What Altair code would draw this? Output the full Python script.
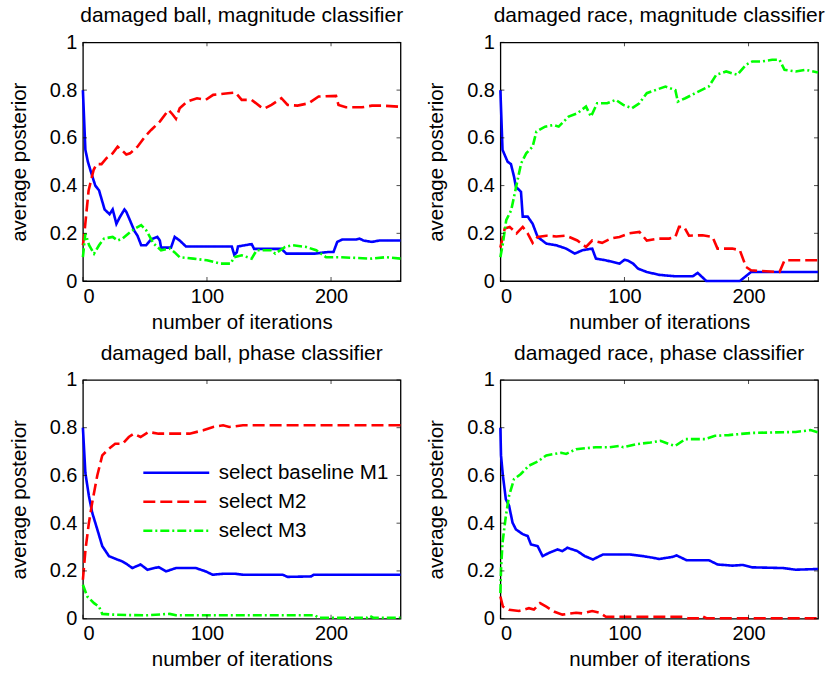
import altair as alt
import pandas as pd

SERIES = ["select baseline M1", "select M2", "select M3"]
COLORS = ["#0000ff", "#ff0000", "#00ff00"]
DASHES = [[1, 0], [12, 5], [9, 3, 2, 3]]
X_TICKS = [0, 100, 200]
Y_TICKS = [0, 0.2, 0.4, 0.6, 0.8, 1]
X_MAX = 256

TITLES = [
    "damaged ball, magnitude classifier",
    "damaged race, magnitude classifier",
    "damaged ball, phase classifier",
    "damaged race, phase classifier",
]

# ---- damaged ball, magnitude classifier ----
tl_m1_x = [0, 2, 4, 7.5, 10, 13, 17.5, 21.5, 24, 27, 30, 33.5, 35, 37.5, 41.5, 44, 47, 51, 55, 60, 62, 63, 71, 74, 78, 83, 120, 122, 124, 125, 136, 138, 160, 164, 187, 198, 202, 205, 209, 220, 223, 226, 233, 239, 256]
tl_m1_y = [0.80, 0.55, 0.50, 0.44, 0.40, 0.38, 0.30, 0.28, 0.30, 0.24, 0.27, 0.30, 0.29, 0.26, 0.21, 0.19, 0.15, 0.15, 0.175, 0.185, 0.17, 0.14, 0.14, 0.185, 0.17, 0.145, 0.145, 0.11, 0.12, 0.145, 0.155, 0.135, 0.135, 0.115, 0.115, 0.122, 0.122, 0.164, 0.174, 0.174, 0.178, 0.17, 0.164, 0.17, 0.17]
tl_m2_x = [0, 1, 2.7, 4.6, 8.6, 11, 15, 19, 24, 28, 32, 35, 38, 44, 50, 55, 62, 69, 72, 75, 78, 84, 92, 99, 105, 117, 123, 128, 136, 143, 146, 152, 160, 165, 173, 182, 190, 204, 206, 212, 225, 233, 241, 256]
tl_m2_y = [0.15, 0.19, 0.28, 0.38, 0.465, 0.49, 0.49, 0.515, 0.535, 0.563, 0.545, 0.53, 0.535, 0.563, 0.605, 0.633, 0.668, 0.717, 0.70, 0.68, 0.724, 0.752, 0.766, 0.759, 0.78, 0.787, 0.79, 0.759, 0.759, 0.731, 0.722, 0.738, 0.766, 0.738, 0.735, 0.745, 0.773, 0.776, 0.738, 0.728, 0.728, 0.735, 0.735, 0.73]
tl_m3_x = [0, 2, 5, 9, 13, 17, 24, 28, 32, 37, 42, 47, 51, 57, 63, 70, 74, 78, 89, 100, 111, 119, 122, 128, 136, 140, 152, 155, 163, 169, 180, 188, 196, 206, 233, 244, 256]
tl_m3_y = [0.10, 0.20, 0.15, 0.115, 0.15, 0.178, 0.185, 0.17, 0.178, 0.20, 0.22, 0.234, 0.213, 0.157, 0.129, 0.136, 0.12, 0.10, 0.094, 0.087, 0.073, 0.073, 0.10, 0.108, 0.094, 0.129, 0.129, 0.115, 0.143, 0.15, 0.143, 0.129, 0.10, 0.10, 0.094, 0.10, 0.094]

# ---- damaged race, magnitude classifier ----
tr_m1_x = [0, 1.7, 5.8, 8.5, 11, 12.5, 16.6, 18, 22, 26, 30, 37, 45, 53, 60, 66, 74, 77, 85, 96, 100, 103, 107, 111, 118, 128, 141, 155, 159, 163, 166, 193, 202, 256]
tr_m1_y = [0.80, 0.55, 0.50, 0.49, 0.437, 0.395, 0.374, 0.27, 0.27, 0.24, 0.185, 0.157, 0.15, 0.136, 0.115, 0.129, 0.136, 0.094, 0.087, 0.073, 0.089, 0.085, 0.073, 0.052, 0.038, 0.026, 0.02, 0.02, 0.034, 0.015, 0.0, 0.0, 0.038, 0.038]
tr_m2_x = [0, 3.5, 7.5, 13, 18, 22, 26, 30, 37, 45, 53, 62, 69, 74, 82, 89, 96, 104, 112, 118, 128, 136, 141, 144, 148, 152, 163, 171, 175, 187, 193, 198, 202, 225, 229, 256]
tr_m2_y = [0.14, 0.22, 0.227, 0.20, 0.227, 0.20, 0.16, 0.185, 0.19, 0.187, 0.19, 0.17, 0.143, 0.17, 0.16, 0.178, 0.185, 0.20, 0.206, 0.17, 0.178, 0.178, 0.185, 0.227, 0.227, 0.19, 0.192, 0.185, 0.136, 0.136, 0.129, 0.059, 0.045, 0.038, 0.087, 0.087]
tr_m3_x = [0, 2, 4.7, 8.7, 12.7, 16.7, 20.8, 26, 29, 36, 43, 47, 55, 62, 69, 73, 78, 86, 93, 99, 106, 112, 118, 125, 133, 141, 143, 149, 157, 168, 174, 182, 191, 198, 203, 211, 219, 225, 229, 238, 246, 256]
tr_m3_y = [0.10, 0.157, 0.255, 0.297, 0.395, 0.493, 0.535, 0.563, 0.626, 0.647, 0.654, 0.647, 0.689, 0.703, 0.731, 0.689, 0.745, 0.745, 0.759, 0.738, 0.724, 0.745, 0.787, 0.80, 0.815, 0.80, 0.752, 0.766, 0.787, 0.815, 0.864, 0.878, 0.864, 0.906, 0.92, 0.92, 0.927, 0.927, 0.885, 0.878, 0.885, 0.874]

# ---- damaged ball, phase classifier ----
bl_m1_x = [0, 2, 4.8, 7.5, 11.6, 15.6, 21, 27.6, 31.7, 35.8, 39.8, 46.5, 52, 61, 67, 75, 91, 99, 104.6, 113, 123, 129, 161, 165, 184, 186, 256]
bl_m1_y = [0.80, 0.61, 0.515, 0.444, 0.374, 0.304, 0.262, 0.248, 0.24, 0.227, 0.212, 0.227, 0.205, 0.216, 0.198, 0.212, 0.212, 0.198, 0.184, 0.188, 0.188, 0.184, 0.184, 0.175, 0.177, 0.184, 0.184]
bl_m2_x = [0, 2.1, 4.8, 7.5, 11.6, 15.6, 21, 26, 32, 37, 41, 46.5, 53, 61, 75, 86, 97, 105, 113, 118, 129, 256]
bl_m2_y = [0.163, 0.29, 0.40, 0.486, 0.60, 0.684, 0.712, 0.733, 0.733, 0.761, 0.775, 0.761, 0.782, 0.775, 0.775, 0.775, 0.789, 0.803, 0.81, 0.803, 0.81, 0.81]
bl_m3_x = [0, 3.5, 9, 13, 15.6, 24, 37, 51, 70, 75, 129, 187, 190, 229, 231, 234, 256]
bl_m3_y = [0.142, 0.093, 0.065, 0.05, 0.02, 0.017, 0.015, 0.014, 0.02, 0.014, 0.014, 0.014, 0.004, 0.004, 0.012, 0.004, 0.004]

# ---- damaged race, phase classifier ----
br_m1_x = [0, 0.5, 2, 4.4, 7, 9.8, 12.5, 18, 22, 24.6, 30, 34, 39.4, 46, 50, 54, 62, 68, 74.6, 82.7, 95, 104, 115, 123, 128, 139, 142, 150, 168, 175, 187, 195, 203, 228, 238, 256]
br_m1_y = [0.80, 0.684, 0.60, 0.50, 0.473, 0.402, 0.374, 0.354, 0.346, 0.311, 0.304, 0.262, 0.276, 0.29, 0.283, 0.297, 0.283, 0.262, 0.248, 0.269, 0.269, 0.269, 0.262, 0.255, 0.25, 0.259, 0.265, 0.245, 0.245, 0.227, 0.222, 0.225, 0.215, 0.212, 0.205, 0.208]
br_m2_x = [0, 2, 7, 15, 23, 27, 32, 37, 43.6, 50, 61, 66, 74, 80, 85, 149, 151, 161, 163, 166, 256]
br_m2_y = [0.093, 0.051, 0.037, 0.032, 0.044, 0.038, 0.065, 0.05, 0.029, 0.017, 0.025, 0.022, 0.032, 0.025, 0.008, 0.008, 0.002, 0.002, 0.01, 0.002, 0.002]
br_m3_x = [0, 0.5, 1.7, 4.4, 7, 11, 16.5, 23, 30, 37, 43.6, 49, 53, 61, 69, 77, 88, 96, 99, 110, 121, 129, 136, 141, 149, 165, 173, 184, 192, 203, 219, 238, 250, 256]
br_m3_y = [0.107, 0.205, 0.318, 0.43, 0.515, 0.585, 0.606, 0.641, 0.658, 0.684, 0.69, 0.695, 0.69, 0.71, 0.714, 0.718, 0.718, 0.724, 0.718, 0.731, 0.738, 0.745, 0.731, 0.724, 0.752, 0.752, 0.766, 0.769, 0.773, 0.778, 0.78, 0.782, 0.79, 0.78]

PANELS = [
    [(tl_m1_x, tl_m1_y), (tl_m2_x, tl_m2_y), (tl_m3_x, tl_m3_y)],
    [(tr_m1_x, tr_m1_y), (tr_m2_x, tr_m2_y), (tr_m3_x, tr_m3_y)],
    [(bl_m1_x, bl_m1_y), (bl_m2_x, bl_m2_y), (bl_m3_x, bl_m3_y)],
    [(br_m1_x, br_m1_y), (br_m2_x, br_m2_y), (br_m3_x, br_m3_y)],
]

W, H = 318, 239
FONT = "Liberation Sans"
TICK_LEN = 4


def panel(idx, show_legend):
    rows = []
    for s, (xs, ys) in zip(SERIES, PANELS[idx]):
        for i, (x, y) in enumerate(zip(xs, ys)):
            rows.append({"iter": x, "value": y, "series": s, "k": i})
    df = pd.DataFrame(rows)

    xscale = alt.Scale(domain=[0, X_MAX], nice=False, zero=False)
    yscale = alt.Scale(domain=[0, 1], nice=False)

    if show_legend:
        leg = alt.Legend(
            orient="none", legendX=59, legendY=75, title=None,
            symbolType="M-1,0H3", symbolSize=1089, symbolStrokeWidth=2.5,
            labelFontSize=20.5, labelFont=FONT, labelColor="black",
            labelOffset=41, rowPadding=0, labelLimit=0,
        )
    else:
        leg = None

    lines = alt.Chart(df).mark_line(strokeWidth=2.6).encode(
        x=alt.X("iter:Q", scale=xscale,
                axis=alt.Axis(values=X_TICKS, title="number of iterations")),
        y=alt.Y("value:Q", scale=yscale,
                axis=alt.Axis(values=Y_TICKS, format="~g", title="average posterior")),
        color=alt.Color("series:N", scale=alt.Scale(domain=SERIES, range=COLORS), legend=leg),
        strokeDash=alt.StrokeDash("series:N", scale=alt.Scale(domain=SERIES, range=DASHES), legend=leg),
        order="k:Q",
    )

    xt = pd.DataFrame({"t": X_TICKS})
    yt = pd.DataFrame({"t": Y_TICKS})
    tick_style = dict(color="black", thickness=1, size=TICK_LEN)
    xb = alt.Chart(xt).mark_tick(**tick_style, orient="vertical").encode(
        x=alt.X("t:Q", scale=xscale), y=alt.value(H - TICK_LEN / 2))
    xtp = alt.Chart(xt).mark_tick(**tick_style, orient="vertical").encode(
        x=alt.X("t:Q", scale=xscale), y=alt.value(TICK_LEN / 2))
    yl = alt.Chart(yt).mark_tick(**tick_style, orient="horizontal").encode(
        y=alt.Y("t:Q", scale=yscale), x=alt.value(TICK_LEN / 2))
    yr = alt.Chart(yt).mark_tick(**tick_style, orient="horizontal").encode(
        y=alt.Y("t:Q", scale=yscale), x=alt.value(W - TICK_LEN / 2))

    return alt.layer(lines, xb, xtp, yl, yr).properties(
        width=W, height=H, title=alt.Title(TITLES[idx])
    )


chart = alt.concat(
    panel(0, False), panel(1, False), panel(2, True), panel(3, False),
    columns=2, spacing={"row": 99, "column": 100}, bounds="flush",
).resolve_legend(
    color="independent", strokeDash="independent"
).properties(
    padding={"left": 8, "top": 4, "right": 1, "bottom": 4},
    background="white",
).configure_view(
    stroke="black", strokeWidth=1.3
).configure_axis(
    ticks=False, domain=False, grid=False,
    labelFont=FONT, labelFontSize=20, labelColor="black", labelPadding=6,
    titleFont=FONT, titleFontSize=20.5, titleFontWeight="normal", titleColor="black",
).configure_axisX(
    labelPadding=5, titlePadding=6
).configure_axisY(
    titlePadding=20
).configure_title(
    font=FONT, fontSize=21, fontWeight="normal", color="black",
    anchor="middle", frame="group", offset=6,
)

chart.save("out.html", embed_options={"renderer": "svg", "actions": False})
